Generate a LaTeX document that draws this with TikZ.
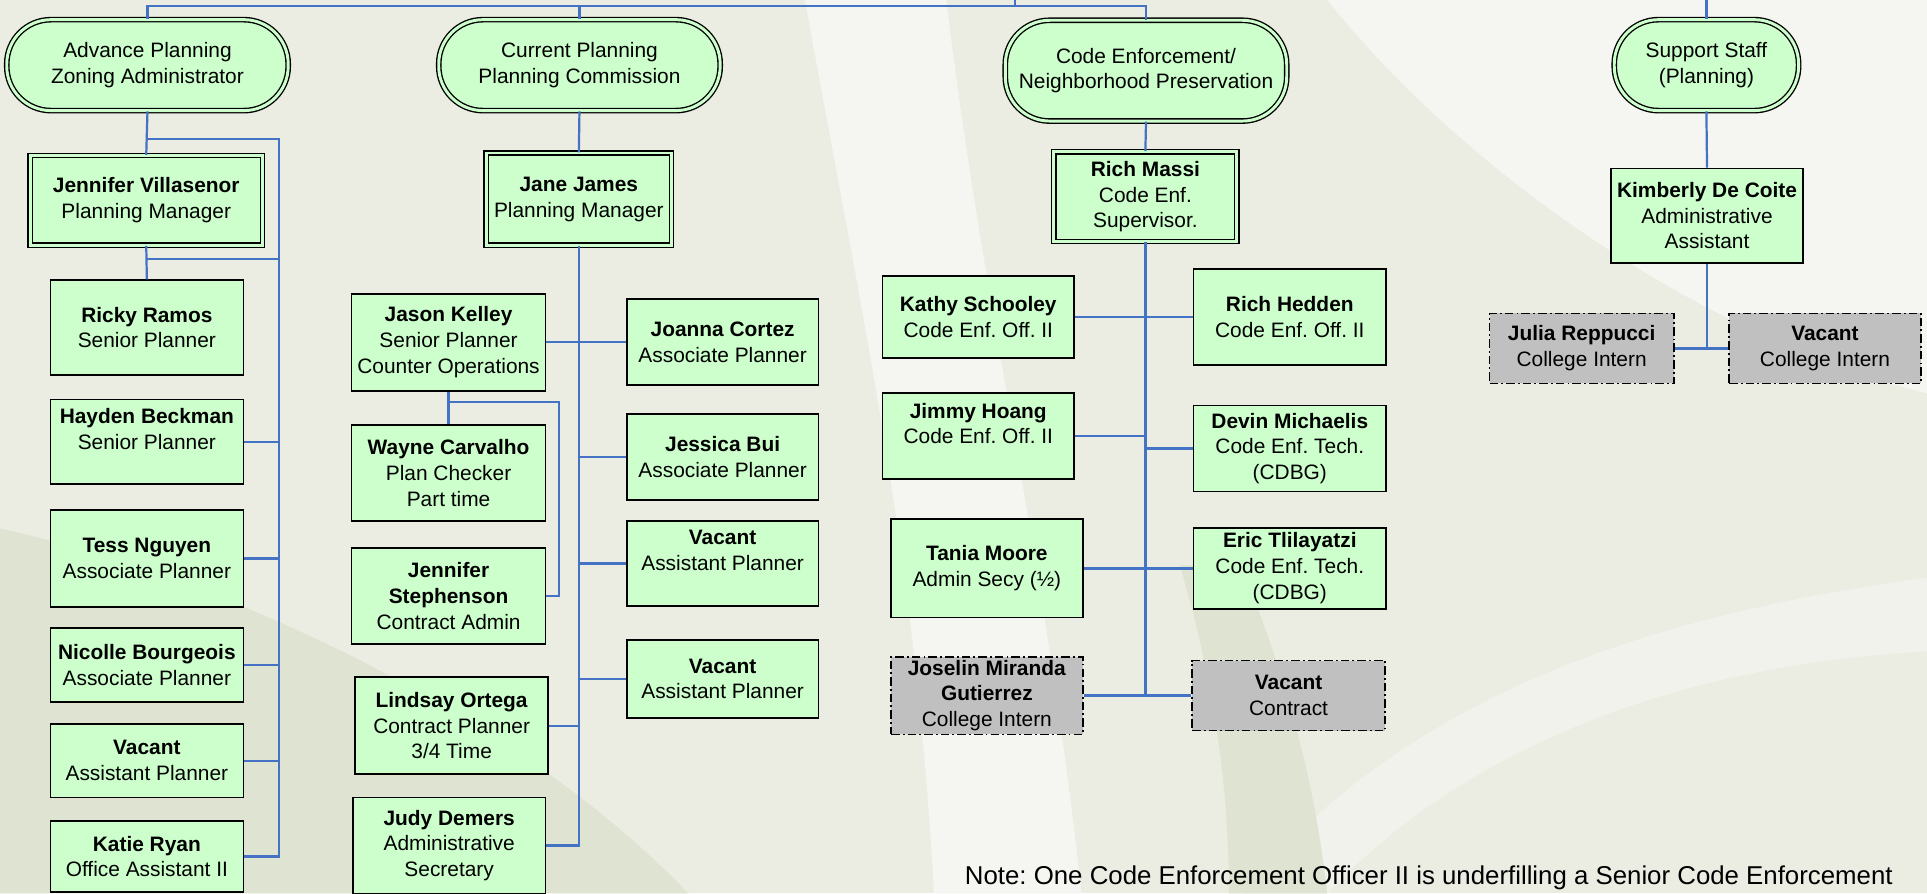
\documentclass[tikz,border=0pt]{standalone}
\usepackage{fontspec}
\setmainfont{Liberation Sans}
\frenchspacing

\definecolor{boxgreen}{RGB}{204,255,204}
\definecolor{interngray}{RGB}{192,192,192}
\definecolor{linkblue}{RGB}{68,114,196}
\definecolor{bgbase}{RGB}{235,237,226}
\definecolor{bglight}{RGB}{245,245,242}
\definecolor{bgdark}{RGB}{223,227,209}

\begin{document}
\begin{tikzpicture}[x=1pt, y=-1pt,
	box/.style={draw, fill=boxgreen, line width=1.3pt, minimum width=157pt, inner sep=0pt, align=center, font=\fontsize{17}{21}\selectfont},
	boss/.style={box, double=boxgreen, double distance=2.4pt, line width=1.1pt},
	unit/.style={boss, rounded corners=36pt},
	intern/.style={box, fill=interngray, dash pattern=on 7pt off 2.5pt on 1.5pt off 2.5pt},
	link/.style={draw=linkblue, line width=1.8pt}]
	\useasboundingbox (0,0) rectangle (1568,727);
	\clip (0,0) rectangle (1568,727);

	% background
	\fill [bgbase] (0,0) rectangle (1568,727);
	\fill [bglight] (655,0) -- (770,0) .. controls (800,250) and (850,450) .. (880,727) -- (760,727) .. controls (745,450) and (700,250) .. (655,0) -- cycle;
	\fill [bglight] (1080,0) -- (1568,0) -- (1568,320) .. controls (1400,280) and (1200,150) .. (1080,0) -- cycle;
	\fill [bglight!60!bgbase] (1568,470) .. controls (1350,500) and (1150,560) .. (1010,727) -- (1080,727) .. controls (1200,600) and (1380,540) .. (1568,530) -- cycle;
	\fill [bgdark] (0,430) .. controls (180,470) and (420,580) .. (560,727) -- (0,727) -- cycle;
	\fill [bgdark] (960,460) .. controls (990,560) and (1000,650) .. (1000,727) -- (1080,727) .. controls (1070,640) and (1050,560) .. (1010,460) -- cycle;

	% units
	\node [unit, minimum width=229pt, minimum height=74pt] (ap) at (120,53) {Advance Planning\\Zoning Administrator};
	\node [unit, minimum width=229pt, minimum height=74pt] (cp) at (471.5,53) {Current Planning\\Planning Commission};
	\node [unit, minimum width=229pt, minimum height=82pt] (ce) at (932.5,57.5) {Code Enforcement/\\Neighborhood Preservation};
	\node [unit, minimum width=150pt, minimum height=74pt] (ss) at (1388.5,53) {Support Staff\\(Planning)};

	% advance planning
	\node [boss, minimum width=189pt, minimum height=73pt] (villasenor) at (119,163) {\textbf{Jennifer Villasenor}\\Planning Manager};
	\node [box, minimum height=77pt] (ramos) at (119.5,266.5) {\textbf{Ricky Ramos}\\Senior Planner};
	\node [box, minimum height=69pt] (beckman) at (119.5,359.5) {\textbf{Hayden Beckman}\\Senior Planner\\~};
	\node [box, minimum height=79pt] (nguyen) at (119.5,454.5) {\textbf{Tess Nguyen}\\Associate Planner};
	\node [box, minimum height=60pt] (bourgeois) at (119.5,541) {\textbf{Nicolle Bourgeois}\\Associate Planner};
	\node [box, minimum height=60pt] (vacantap) at (119.5,619) {\textbf{Vacant}\\Assistant Planner};
	\node [box, minimum height=58pt] (ryan) at (119.5,697) {\textbf{Katie Ryan}\\Office Assistant II};

	% current planning
	\node [boss, minimum width=151pt, minimum height=75pt] (james) at (471,162) {\textbf{Jane James}\\Planning Manager};
	\node [box, minimum width=158pt, minimum height=79pt] (kelley) at (365,278.5) {\textbf{Jason Kelley}\\Senior Planner\\Counter Operations};
	\node [box, minimum width=158pt, minimum height=78pt] (carvalho) at (365,385) {\textbf{Wayne Carvalho}\\Plan Checker\\Part time};
	\node [box, minimum width=158pt, minimum height=78pt] (stephenson) at (365,485) {\textbf{Jennifer}\\\textbf{Stephenson}\\Contract Admin};
	\node [box, minimum height=79pt] (ortega) at (367.5,590.5) {\textbf{Lindsay Ortega}\\Contract Planner\\3/4 Time};
	\node [box, minimum height=78pt] (demers) at (365.5,688) {\textbf{Judy Demers}\\Administrative\\Secretary};
	\node [box, minimum width=156pt, minimum height=70pt] (cortez) at (588,278.5) {\textbf{Joanna Cortez}\\Associate Planner};
	\node [box, minimum width=156pt, minimum height=70pt] (bui) at (588,372) {\textbf{Jessica Bui}\\Associate Planner};
	\node [box, minimum width=156pt, minimum height=69pt] (vacantcp) at (588,458.5) {\textbf{Vacant}\\Assistant Planner\\~};
	\node [box, minimum width=156pt, minimum height=63pt] (vacantcq) at (588,552.5) {\textbf{Vacant}\\Assistant Planner};

	% code enforcement
	\node [boss, minimum width=149pt, minimum height=73pt] (massi) at (932,160) {\textbf{Rich Massi}\\Code Enf.\\Supervisor.};
	\node [box, minimum width=156pt, minimum height=67pt] (schooley) at (796,258) {\textbf{Kathy Schooley}\\Code Enf. Off. II};
	\node [box, minimum height=78pt] (hedden) at (1049.5,258) {\textbf{Rich Hedden}\\Code Enf. Off. II};
	\node [box, minimum width=156pt, minimum height=70pt] (hoang) at (796,355) {\textbf{Jimmy Hoang}\\Code Enf. Off. II\\~};
	\node [box, minimum height=70pt] (michaelis) at (1049.5,365) {\textbf{Devin Michaelis}\\Code Enf. Tech.\\(CDBG)};
	\node [box, minimum width=156pt, minimum height=80pt] (moore) at (803,462.5) {\textbf{Tania Moore}\\Admin Secy (½)};
	\node [box, minimum height=66pt] (tlilayatzi) at (1049.5,462.5) {\textbf{Eric Tlilayatzi}\\Code Enf. Tech.\\(CDBG)};
	\node [intern, minimum width=156pt, minimum height=63pt] (gutierrez) at (803,566) {\textbf{Joselin Miranda}\\\textbf{Gutierrez}\\College Intern};
	\node [intern, minimum height=57pt] (vacantce) at (1048.5,566) {\textbf{Vacant}\\Contract};

	% support staff
	\node [box, minimum width=156pt, minimum height=77pt] (decoite) at (1389,175.5) {\textbf{Kimberly De Coite}\\Administrative\\Assistant};
	\node [intern, minimum width=150pt, minimum height=57pt] (reppucci) at (1287,283.5) {\textbf{Julia Reppucci}\\College Intern};
	\node [intern, minimum width=156pt, minimum height=57pt] (vacantss) at (1485,283.5) {\textbf{Vacant}\\College Intern};

	\node [anchor=base west, font=\fontsize{21}{26}\selectfont, inner sep=0pt] (note) at (785,720) {Note: One Code Enforcement Officer II is underfilling a Senior Code Enforcement};

	% connectors
	\coordinate (bar) at (826,5);
	\coordinate (topin) at (826,0);
	\coordinate (ssin) at (1388.5,0);
	\draw [link] (ap.north) |- (bar) -| (ce.north);
	\draw [link] (cp.north) -- (cp.north |- bar);
	\draw [link] (bar) -- (topin);
	\draw [link] (ss.north) -- (ssin);

	\coordinate (apr) at (227,113);
	\coordinate (vlr) at (227,211);
	\draw [link] (ap.south) -- (villasenor.north);
	\draw [link] (ap.south |- apr) -| (ryan.east -| apr) -- (ryan.east);
	\draw [link] (villasenor.south) -- (ramos.north);
	\draw [link] (villasenor.south |- vlr) -- (vlr);
	\foreach \n in {beckman,nguyen,bourgeois,vacantap}
		\draw [link] (\n.east) -- (\n.east -| apr);

	\coordinate (jkr) at (455,327);
	\draw [link] (cp.south) -- (james.north);
	\draw [link] (james.south) |- (demers.east);
	\draw [link] (kelley.east) -- (cortez.west);
	\draw [link] (ortega.east) -- (ortega.east -| james.south);
	\foreach \n in {bui,vacantcp,vacantcq}
		\draw [link] (\n.west) -- (\n.west -| james.south);
	\draw [link] (kelley.south) -- (carvalho.north);
	\draw [link] (kelley.south |- jkr) -| (stephenson.east -| jkr) -- (stephenson.east);

	\draw [link] (ce.south) -- (massi.north);
	\draw [link] (massi.south) -- (massi.south |- gutierrez.east);
	\draw [link] (schooley.east) -- (hedden.west);
	\draw [link] (moore.east) -- (tlilayatzi.west);
	\draw [link] (gutierrez.east) -- (vacantce.west);
	\draw [link] (hoang.east) -- (hoang.east -| massi.south);
	\draw [link] (michaelis.west) -- (michaelis.west -| massi.south);

	\draw [link] (ss.south) -- (decoite.north);
	\draw [link] (decoite.south) -- (decoite.south |- reppucci.east);
	\draw [link] (reppucci.east) -- (vacantss.west);
\end{tikzpicture}
\end{document}
